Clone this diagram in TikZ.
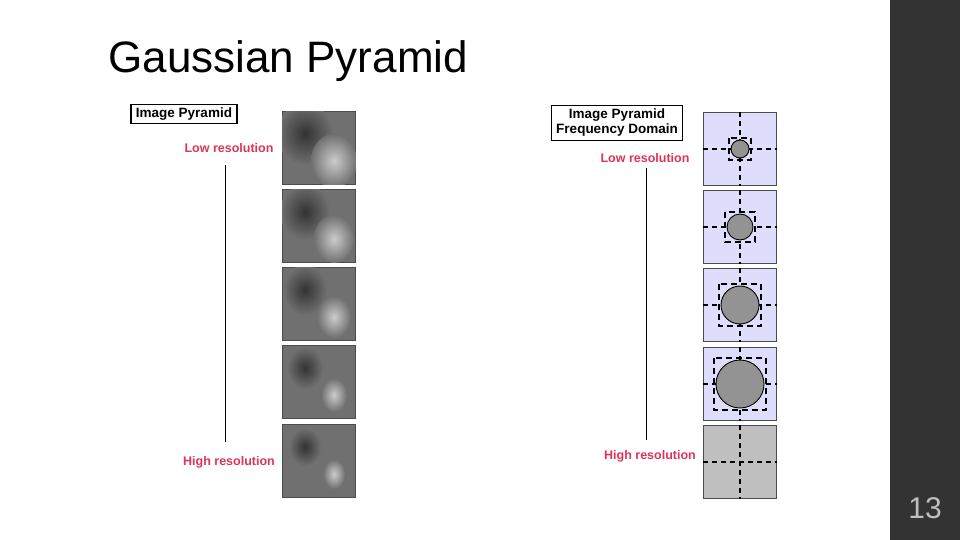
\documentclass[tikz,border=0pt]{standalone}
\usepackage{fontspec}
\setmainfont{Liberation Sans}
\usetikzlibrary{positioning}
\definecolor{SideGray}{RGB}{51,51,51}
\definecolor{ResRed}{RGB}{222,52,88}
\definecolor{FreqBlue}{RGB}{222,222,252}
\definecolor{PicGray}{RGB}{112,112,112}
\tikzset{
  labelbox/.style={draw, line width=1.3pt, inner xsep=5pt, inner ysep=3.5pt, font=\bfseries\fontsize{13.5}{15}\selectfont, align=center},
  reslabel/.style={text=ResRed, font=\bfseries\fontsize{12.5}{14}\selectfont},
  tile/.style={draw=black!70, line width=0.8pt, minimum size=73pt, inner sep=0pt},
  axisline/.style={line width=1.3pt, dash pattern=on 5pt off 4pt}
}
\begin{document}
\begin{tikzpicture}[x=1pt,y=-1pt]
\useasboundingbox (0,0) rectangle (960,540);
\fill[SideGray] (890,0) rectangle (960,540);
\node[text=black!25, font=\fontsize{30}{32}\selectfont] (pagenum) at (925,508) {13};
\node[anchor=base west, font=\fontsize{44}{48}\selectfont] (title) at (105,73) {Gaussian Pyramid};

% spatial pyramid
\node[labelbox] (spbox) at (184,114) {Image Pyramid};
\node[reslabel] (splow) at (229,148) {Low resolution};
\node[reslabel] (sphigh) at (229,462) {High resolution};
\draw[line width=1pt] (225,165) coordinate (spa) -- (225,442) coordinate (spb);
\foreach \i/\y/\b in {1/148/12, 2/226/9, 3/304/6, 4/382/2, 5/461/0} {
  \node[tile, fill=PicGray] (pic\i) at (319,\y) {};
  \begin{scope}
    \clip (pic\i.south west) rectangle (pic\i.north east);
    \shade[inner color=black!80, outer color=PicGray] (305,\y-14) ellipse ({16+\b} and {19+\b});
    \shade[inner color=black!20, outer color=PicGray] (334,\y+13) ellipse ({11+\b} and {15+\b});
  \end{scope}
}

% frequency pyramid
\node[labelbox] (fqbox) at (617,123) {Image Pyramid\\Frequency Domain};
\node[reslabel] (fqlow) at (645,158) {Low resolution};
\node[reslabel] (fqhigh) at (650,456) {High resolution};
\draw[line width=1pt] (646,168) coordinate (fqa) -- (646,440) coordinate (fqb);
\foreach \i/\y/\r in {1/149/9, 2/227/13, 3/305/19, 4/384/24} {
  \node[tile, fill=FreqBlue] (frq\i) at (740,\y) {};
  \draw[axisline] (frq\i.north) -- (frq\i.south);
  \draw[axisline] (frq\i.west) -- (frq\i.east);
  \draw[line width=1.2pt, dash pattern=on 6pt off 4pt] (740-\r-2,\y-\r-2) rectangle (740+\r+2,\y+\r+2);
  \draw[line width=0.9pt, fill=gray!85] (740,\y) circle (\r);
}
\node[tile, fill=black!25] (frq5) at (740,462) {};
\draw[axisline] (frq5.north) -- (frq5.south);
\draw[axisline] (frq5.west) -- (frq5.east);
\end{tikzpicture}
\end{document}
